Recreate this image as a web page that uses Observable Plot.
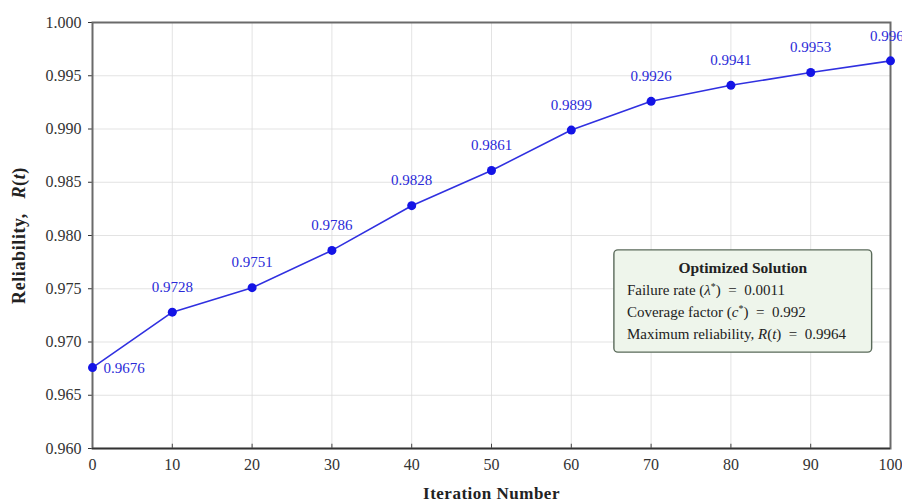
<!DOCTYPE html>
<html><head><meta charset="utf-8">
<script src="https://cdn.jsdelivr.net/npm/d3@7"></script>
<script src="https://cdn.jsdelivr.net/npm/@observablehq/plot@0.6"></script>
<style>
body{margin:0;background:#fff;}
#chart svg{font-family:"Liberation Serif","Times New Roman",serif;}
</style></head>
<body><div id="chart"></div>
<script>
const iterations = [0,10,20,30,40,50,60,70,80,90,100];
const reliability = [0.9676,0.9728,0.9751,0.9786,0.9828,0.9861,0.9899,0.9926,0.9941,0.9953,0.9964];
const labels = ["0.9676","0.9728","0.9751","0.9786","0.9828","0.9861","0.9899","0.9926","0.9941","0.9953","0.9964"];
const xTicks = [0,10,20,30,40,50,60,70,80,90,100];
const yTicks = [0.960,0.965,0.970,0.975,0.980,0.985,0.990,0.995,1.000];
// annotation box extent (data space)
const boxX = [65.4, 97.7];
const boxY = [0.9690, 0.9786];
const boxTitle = "Optimized Solution";

const data = iterations.map((x,i)=>({x, y: reliability[i], label: labels[i]}));
const first = data.slice(0,1), rest = data.slice(1);

const plot = Plot.plot({
  width: 902, height: 501,
  marginLeft: 92, marginRight: 12, marginTop: 22, marginBottom: 53,
  style: {fontFamily: '"Liberation Serif","Times New Roman",serif', fontSize: "16px", color: "#333", overflow: "visible"},
  x: {domain: [0,100], ticks: xTicks, tickFormat: d=>String(d), label: "Iteration Number", labelAnchor: "center", labelArrow: "none", labelOffset: 50, tickSize: 0, tickPadding: 10},
  y: {domain: [0.960,1.000], ticks: yTicks, tickFormat: d3.format(".3f"), label: "Reliability, R(t)", labelAnchor: "center", labelArrow: "none", labelOffset: 80, tickSize: 4, tickPadding: 7},
  marks: [
    Plot.gridX(xTicks, {stroke: "#dcdcdc", strokeOpacity: 1, strokeWidth: 0.8}),
    Plot.gridY(yTicks, {stroke: "#dcdcdc", strokeOpacity: 1, strokeWidth: 0.8}),
    Plot.ruleX(xTicks, {x: d=>d, y1: 0.960, y2: 0.9604, stroke: "#444", strokeWidth: 1}),
    Plot.frame({stroke: "#6a6a6a", strokeWidth: 2}),
    Plot.ruleY([0.960], {stroke: "#333", strokeWidth: 1.5}),
    Plot.line(data, {x: "x", y: "y", stroke: "#3030e0", strokeWidth: 1.6}),
    Plot.dot(data, {x: "x", y: "y", r: 4.5, fill: "#1414e6", stroke: "none"}),
    Plot.text(rest, {x: "x", y: "y", text: "label", dy: -25, fill: "#2a2ad8", fontSize: 15}),
    Plot.text(first, {x: "x", y: "y", text: "label", dx: 11, dy: 1, textAnchor: "start", fill: "#2a2ad8", fontSize: 15}),
    Plot.rect([{x1: boxX[0], x2: boxX[1], y1: boxY[0], y2: boxY[1]}], {x1: "x1", x2: "x2", y1: "y1", y2: "y2", fill: "#eef5eb", stroke: "#5a6a5a", strokeWidth: 1.4, rx: 4})
  ]
});
document.getElementById("chart").appendChild(plot);

const svg = d3.select(plot);
// style axis labels with italic R(t)
const yl = svg.select('g[aria-label="y-axis label"] text');
yl.text(null).attr("font-weight","bold").attr("font-size","18px").attr("fill","#222").attr("letter-spacing","0.6px");
yl.append("tspan").text("Reliability,\u2002 ");
yl.append("tspan").attr("font-style","italic").text("R");
yl.append("tspan").text("(");
yl.append("tspan").attr("font-style","italic").text("t");
yl.append("tspan").text(")");
svg.select('g[aria-label="x-axis label"] text').attr("font-weight","bold").attr("font-size","17px").attr("fill","#222").attr("letter-spacing","0.5px");

// annotation text
const xs = plot.scale("x"), ys = plot.scale("y");
const bx0 = xs.apply(boxX[0]), bx1 = xs.apply(boxX[1]), by0 = ys.apply(boxY[1]);
const g = svg.append("g").attr("font-family",'"Liberation Serif","Times New Roman",serif').attr("font-size","15px").attr("fill","#222");
g.append("text").attr("x",(bx0+bx1)/2).attr("y",by0+23).attr("text-anchor","middle").attr("font-weight","bold").attr("font-size","15.5px").text(boxTitle);
const lx = bx0 + 13;
const eq = "\u2002=\u2002";
const t1 = g.append("text").attr("x",lx).attr("y",by0+45).attr("text-anchor","start");
t1.append("tspan").text("Failure rate (");
t1.append("tspan").attr("font-style","italic").text("λ");
t1.append("tspan").attr("dy",-5).attr("font-size","10px").text("*");
t1.append("tspan").attr("dy",5).text(")" + eq + "0.0011");
const t2 = g.append("text").attr("x",lx).attr("y",by0+67).attr("text-anchor","start");
t2.append("tspan").text("Coverage factor (");
t2.append("tspan").attr("font-style","italic").text("c");
t2.append("tspan").attr("dy",-5).attr("font-size","10px").text("*");
t2.append("tspan").attr("dy",5).text(")" + eq + "0.992");
const t3 = g.append("text").attr("x",lx).attr("y",by0+89).attr("text-anchor","start");
t3.append("tspan").text("Maximum reliability, ");
t3.append("tspan").attr("font-style","italic").text("R");
t3.append("tspan").text("(");
t3.append("tspan").attr("font-style","italic").text("t");
t3.append("tspan").text(")" + eq + "0.9964");
</script></body></html>
